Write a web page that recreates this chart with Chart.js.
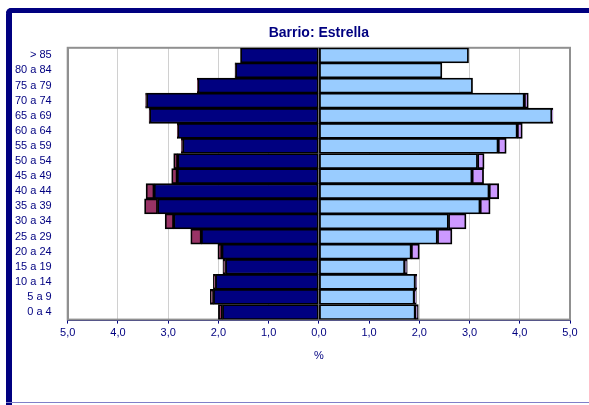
<!DOCTYPE html>
<html>
<head>
<meta charset="utf-8">
<script src="https://cdn.jsdelivr.net/npm/chart.js@4/dist/chart.umd.min.js"></script>
<style>
  html, body { margin: 0; padding: 0; background: #fff; overflow: hidden; width: 589px; height: 405px; }
  .fr { position: absolute; background: #000080; }
  #ftop { left: 6px; top: 8px; width: 583px; height: 5px; border-top-left-radius: 8px; }
  #fleft { left: 6px; top: 8px; width: 6px; height: 397px; border-top-left-radius: 8px; }
  #fbot { left: 6px; top: 402px; width: 583px; height: 1px; background: #8080c8; }
  #wrap { position: absolute; left: 0; top: 0; width: 589px; height: 405px; }
</style>
</head>
<body>
<div class="fr" id="ftop"></div>
<div class="fr" id="fleft"></div>
<div class="fr" id="fbot"></div>
<div id="wrap"><canvas id="pyramid"></canvas></div>
<script>
// age groups, youngest first (axis is reversed so "> 85" sits on top)
var ages = ["0 a 4", "5 a 9", "10 a 14", "15 a 19", "20 a 24", "25 a 29", "30 a 34", "35 a 39", "40 a 44",
            "45 a 49", "50 a 54", "55 a 59", "60 a 64", "65 a 69", "70 a 74", "75 a 79", "80 a 84", "> 85"];

// % of population
var hombresEsp = [1.92, 2.10, 2.06, 1.86, 1.93, 2.34, 2.89, 3.21, 3.28, 2.82, 2.81, 2.71, 2.81, 3.37, 3.43, 2.41, 1.66, 1.56];
var hombresExt = [0.08, 0.06, 0.04, 0.05, 0.08, 0.21, 0.17, 0.26, 0.16, 0.11, 0.08, 0.03, 0.01, 0.01, 0.02, 0.01, 0.01, 0.00];
var mujeresEsp = [1.92, 1.90, 1.92, 1.71, 1.84, 2.36, 2.58, 3.21, 3.39, 3.05, 3.16, 3.57, 3.95, 4.64, 4.09, 3.06, 2.45, 2.98];
var mujeresExt = [0.06, 0.04, 0.03, 0.05, 0.16, 0.29, 0.35, 0.20, 0.19, 0.23, 0.13, 0.16, 0.10, 0.02, 0.08, 0.00, 0.00, 0.00];

var xTicks = [-5, -4, -3, -2, -1, 0, 1, 2, 3, 4, 5];

function neg(arr) {
    return arr.map(function (v) { return -v; });
}

// grey box round the plot area
var plotBox = {
    id: 'plotBox',
    beforeDatasetsDraw: function (chart) {
        var a = chart.chartArea, ctx = chart.ctx;
        ctx.save();
        ctx.strokeStyle = '#909090';
        ctx.lineWidth = 2;
        ctx.strokeRect(a.left, a.top, a.right - a.left, a.bottom - a.top);
        ctx.restore();
    }
};

var navy = '#000080';

new Chart(document.getElementById("pyramid").getContext("2d"), {
    type: 'bar',
    data: {
        labels: ages,
        datasets: [{
            label: "Hombres españoles",
            data: neg(hombresEsp),
            backgroundColor: '#000080'
        }, {
            label: "Hombres extranjeros",
            data: neg(hombresExt),
            backgroundColor: '#993366'
        }, {
            label: "Mujeres españolas",
            data: mujeresEsp,
            backgroundColor: '#99ccff'
        }, {
            label: "Mujeres extranjeras",
            data: mujeresExt,
            backgroundColor: '#cc99ff'
        }]
    },
    options: {
        indexAxis: 'y',
        responsive: true,
        maintainAspectRatio: false,
        animation: false,
        datasets: {
            bar: {
                borderColor: '#000000',
                borderWidth: 1.8,
                borderSkipped: false,
                barPercentage: 1.0,
                categoryPercentage: 1.0
            }
        },
        layout: { padding: { top: 21, right: 19, bottom: 42, left: 7 } },
        plugins: {
            legend: { display: false },
            tooltip: { enabled: false },
            title: {
                display: true,
                fullSize: false,
                text: 'Barrio: Estrella',
                color: navy,
                font: { family: 'Liberation Sans, Arial', size: 14, weight: 'bold' },
                padding: { top: 4, bottom: 6 }
            }
        },
        scales: {
            x: {
                stacked: true,
                min: -5,
                max: 5,
                afterBuildTicks: function (axis) {
                    axis.ticks = xTicks.map(function (v) { return { value: v }; });
                },
                grid: {
                    color: '#d0d0d0',
                    tickColor: navy,
                    tickLength: 4,
                    drawOnChartArea: true
                },
                border: { color: navy, width: 2 },
                ticks: {
                    color: navy,
                    padding: 3,
                    maxRotation: 0,
                    font: { family: 'Liberation Sans, Arial', size: 11 },
                    callback: function (v) { return Math.abs(v).toFixed(1).replace('.', ','); }
                },
                title: {
                    display: true,
                    text: '%',
                    color: navy,
                    padding: { top: 7, bottom: 0 },
                    font: { family: 'Liberation Sans, Arial', size: 11 }
                }
            },
            y: {
                stacked: true,
                reverse: true,
                grid: { display: false },
                border: { color: '#909090', width: 2 },
                ticks: {
                    color: navy,
                    padding: 8,
                    autoSkip: false,
                    font: { family: 'Liberation Sans, Arial', size: 11 }
                }
            }
        }
    },
    plugins: [plotBox]
});
</script>
</body>
</html>
